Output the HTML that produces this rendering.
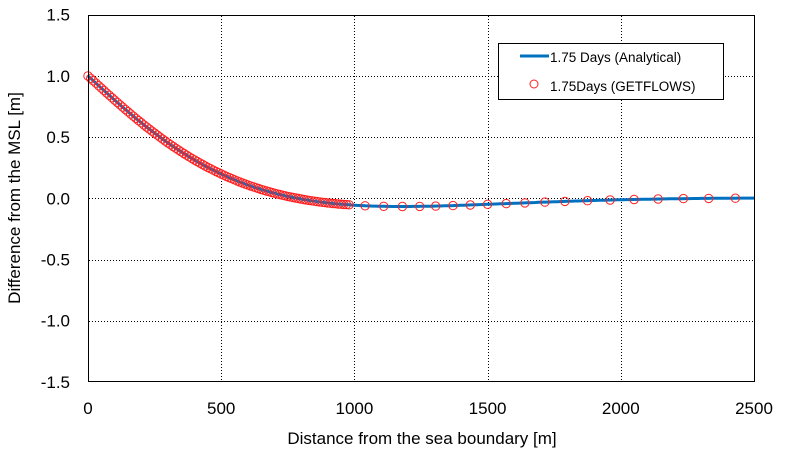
<!DOCTYPE html>
<html><head><meta charset="utf-8"><style>
body{margin:0;background:#fff;}
svg{display:block;font-family:"Liberation Sans",Arial,sans-serif;}
</style></head><body>
<svg id="s" width="786" height="454" xmlns="http://www.w3.org/2000/svg">
<rect width="786" height="454" fill="#fff"/>
<g id="grid" stroke="#000" stroke-width="1" stroke-dasharray="1,2"></g>
<g id="ticks" font-size="17" fill="#000"></g>
<path id="line" fill="none" stroke="#0070c0" stroke-width="3"/>
<g id="marks" fill="none" stroke="#ff2020" stroke-width="1"></g>
<rect x="88.5" y="15.5" width="666" height="366" fill="none" stroke="#000" stroke-width="1"/>
<text x="422" y="444" font-size="17" text-anchor="middle">Distance from the sea boundary [m]</text>
<text transform="translate(20,198) rotate(-90)" font-size="17" text-anchor="middle">Difference from the MSL [m]</text>
<rect x="498.5" y="43.5" width="225" height="56" fill="#fff" stroke="#000" stroke-width="1"/>
<line x1="520" y1="56" x2="549" y2="56" stroke="#0070c0" stroke-width="3"/>
<text x="550" y="62" font-size="13.5">1.75 Days (Analytical)</text>
<circle cx="534" cy="84" r="4" fill="none" stroke="#ff2020"/>
<text x="550" y="91" font-size="13.5">1.75Days (GETFLOWS)</text>
</svg>
<script>
var X=function(v){return 88+v*666/2500},Y=function(v){return 198.3-v*122.4};
var ns="http://www.w3.org/2000/svg",g=document.getElementById('grid'),t=document.getElementById('ticks');
function el(p,tag,a,txt){var e=document.createElementNS(ns,tag);for(var k in a)e.setAttribute(k,a[k]);if(txt)e.textContent=txt;p.appendChild(e);}
for(var i=1;i<5;i++){var x=Math.round(X(i*500))+0.5;el(g,'line',{x1:x,x2:x,y1:16,y2:381});}
[1,0.5,0,-0.5,-1].forEach(function(v){var y=Math.round(Y(v))+0.5;el(g,'line',{x1:89,x2:754,y1:y,y2:y});});
[1.5,1,0.5,0,-0.5,-1,-1.5].forEach(function(v){el(t,'text',{x:70,y:Y(v)+6,'text-anchor':'end'},v.toFixed(1));});
[0,500,1000,1500,2000,2500].forEach(function(v){el(t,'text',{x:X(v),y:414,'text-anchor':'middle'},String(v));});
function h(x){var u=0.002*x;return Math.exp(-u)*Math.cos(u);}
var d='';for(var x=0;x<=2500;x+=10)d+=(x?'L':'M')+X(x).toFixed(1)+','+Y(h(x)).toFixed(1);
document.getElementById('line').setAttribute('d',d);
var m=document.getElementById('marks');
var xs=[];for(var x=0;x<=980;x+=10)xs.push(x);
xs=xs.concat([1040,1110,1180,1245,1305,1370,1435,1500,1570,1640,1715,1790,1875,1960,2050,2140,2235,2330,2430]);
xs.forEach(function(x){el(m,'circle',{cx:X(x).toFixed(1),cy:Y(h(x)).toFixed(1),r:4.2});});
</script>
</body></html>
